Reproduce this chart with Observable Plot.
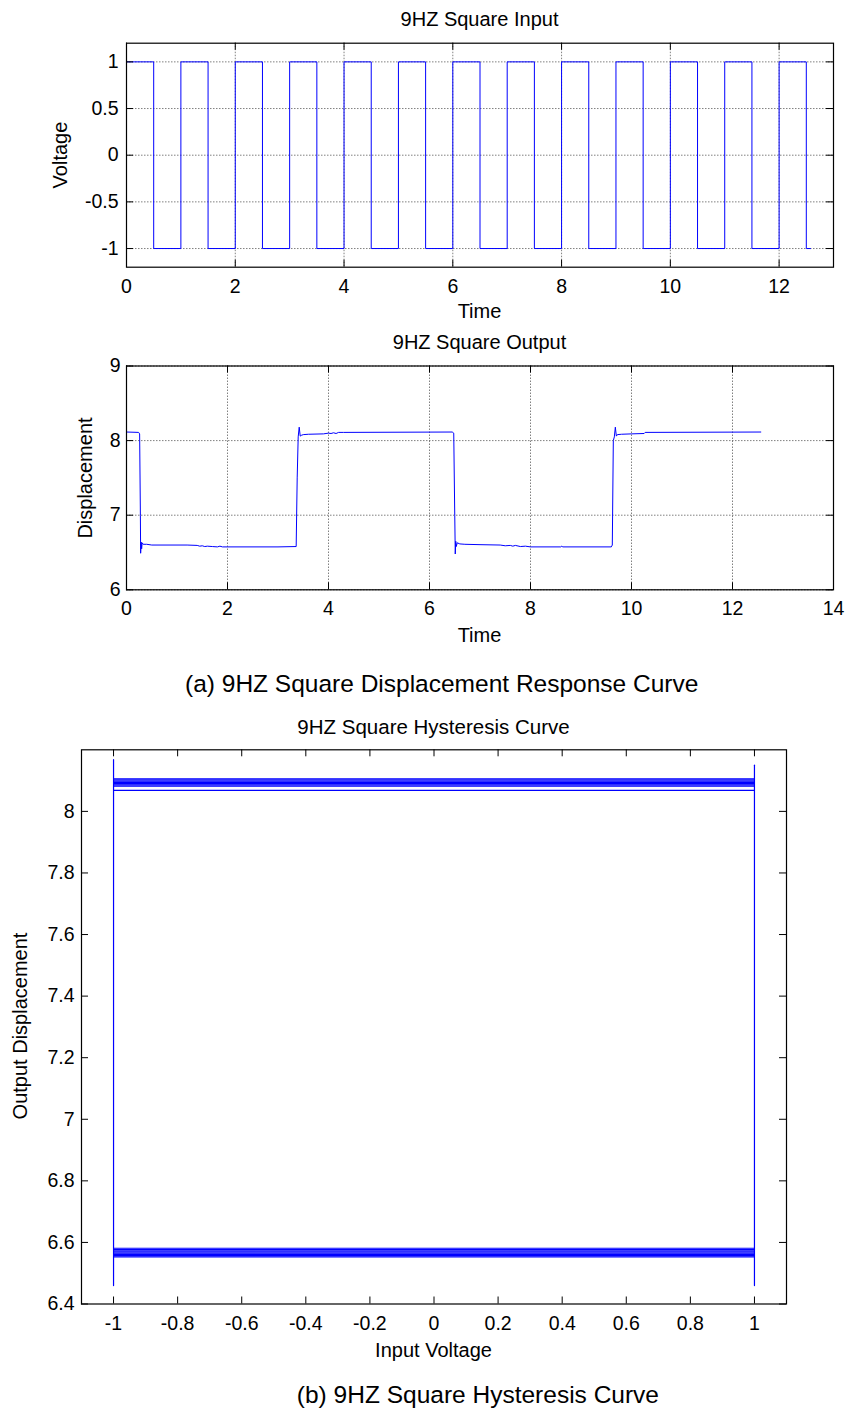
<!DOCTYPE html>
<html>
<head>
<meta charset="utf-8">
<script src="https://cdn.jsdelivr.net/npm/d3@7"></script>
<script src="https://cdn.jsdelivr.net/npm/@observablehq/plot@0.6"></script>
<style>
  html, body { margin: 0; padding: 0; background: #fff; }
  #page { position: relative; width: 849px; height: 1412px; overflow: hidden; background: #fff; }
  .chart { position: absolute; left: 0; }
  #overlay { position: absolute; left: 0; top: 0; pointer-events: none; }
</style>
</head>
<body>
<div id="page"></div>
<script>
// ---------------- DATA ----------------
// (1) 9HZ square input: switching times and the level held from each time
const inputTimes  = [0, 0.5, 1, 1.5, 2, 2.5, 3, 3.5, 4, 4.5, 5, 5.5, 6, 6.5, 7, 7.5, 8, 8.5, 9, 9.5, 10, 10.5, 11, 11.5, 12, 12.5, 12.58];
const inputLevels = [1, -1, 1, -1, 1, -1, 1, -1, 1, -1, 1, -1, 1, -1, 1, -1, 1, -1, 1, -1, 1, -1, 1, -1, 1, -1, -1];

// (2) 9HZ square output displacement
const outputTimes = [0, 0.24, 0.26, 0.275, 0.28, 0.29, 0.30, 0.31, 0.33, 0.40, 0.5, 1.2, 1.4, 1.45, 1.5, 1.55, 1.6, 1.7, 1.8, 1.85, 1.9, 2.0, 3.0, 3.36,
                     3.38, 3.40, 3.42, 3.44, 3.46, 3.5, 3.6, 3.9, 4.0, 4.05, 4.1, 4.15, 4.2, 4.3, 6.45, 6.48,
                     6.50, 6.51, 6.52, 6.53, 6.55, 6.6, 6.7, 7.0, 7.4, 7.5, 7.6, 7.65, 7.7, 7.8, 7.9, 8.0, 8.6, 8.62, 8.64, 9.6,
                     9.62, 9.64, 9.66, 9.68, 9.70, 9.72, 9.8, 10.0, 10.25, 10.27, 12.56];
const outputDisp  = [8.115, 8.11, 8.09, 7.0, 6.49, 6.64, 6.55, 6.63, 6.61, 6.61, 6.6, 6.6, 6.595, 6.585, 6.59, 6.58, 6.585, 6.58, 6.575, 6.585, 6.575, 6.575, 6.575, 6.58,
                     7.5, 8.05, 8.18, 8.06, 8.07, 8.08, 8.085, 8.09, 8.1, 8.095, 8.105, 8.095, 8.11, 8.11, 8.115, 8.10,
                     7.0, 6.48, 6.65, 6.58, 6.63, 6.615, 6.61, 6.605, 6.6, 6.59, 6.595, 6.585, 6.595, 6.58, 6.585, 6.575, 6.575, 6.585, 6.575, 6.575,
                     6.6, 8.0, 8.05, 8.18, 8.06, 8.08, 8.085, 8.09, 8.095, 8.11, 8.115];

// (3) hysteresis: output levels held while input sweeps -1 -> 1, and the vertical spans at the input extremes
const hystTopLevels    = [8.068, 8.082, 8.086, 8.09, 8.094, 8.098, 8.102, 8.106];
const hystBottomLevels = [6.553, 6.557, 6.561, 6.565, 6.569, 6.573, 6.577, 6.581];
const hystInputs       = [-1, 1];
const hystLeftSpan     = [6.46, 8.168];
const hystRightSpan    = [6.46, 8.15];

// ticks
const inTicksX  = [0, 2, 4, 6, 8, 10, 12];
const inTicksY  = [-1, -0.5, 0, 0.5, 1];
const outTicksX = [0, 2, 4, 6, 8, 10, 12, 14];
const outTicksY = [6, 7, 8, 9];
const hyTicksX  = [-1, -0.8, -0.6, -0.4, -0.2, 0, 0.2, 0.4, 0.6, 0.8, 1];
const hyTicksY  = [6.4, 6.6, 6.8, 7, 7.2, 7.4, 7.6, 7.8, 8];

// ---------------- DRAW ----------------
const FONT = "'Liberation Sans', Arial, Helvetica, sans-serif";
const BLUE = "#0000ff";
const page = document.getElementById("page");

function chart({top, height, mt, mb, ml, mr, xDomain, yDomain, xTicks, yTicks, grid, marks, xPad, yPad}) {
  const W = 849;
  const innerH = height - mt - mb;
  const innerW = W - ml - mr;
  const T = 7;
  const gridStyle = {stroke: "#555", strokeOpacity: 0.75, strokeDasharray: "1.5,1.5", strokeWidth: 1};
  const svg = Plot.plot({
    width: W, height,
    marginTop: mt, marginBottom: mb, marginLeft: ml, marginRight: mr,
    x: {domain: xDomain},
    y: {domain: yDomain},
    style: {fontFamily: FONT, fontSize: "19.5px", background: "transparent", color: "black", overflow: "visible"},
    marks: [
      grid ? Plot.gridX(xTicks, gridStyle) : null,
      grid ? Plot.gridY(yTicks, gridStyle) : null,
      ...marks,
      Plot.ruleX(xTicks, {x: d => d, insetTop: innerH - T, stroke: "black"}),
      Plot.ruleX(xTicks, {x: d => d, insetBottom: innerH - T, stroke: "black"}),
      Plot.ruleY(yTicks, {y: d => d, insetRight: innerW - T, stroke: "black"}),
      Plot.ruleY(yTicks, {y: d => d, insetLeft: innerW - T, stroke: "black"}),
      Plot.frame({stroke: "black", strokeWidth: 1.2}),
      Plot.axisX(xTicks, {tickSize: 0, tickPadding: xPad, label: null, tickFormat: d => String(d), fill: "black"}),
      Plot.axisY(yTicks, {tickSize: 0, tickPadding: yPad, label: null, tickFormat: d => String(d), fill: "black"})
    ]
  });
  svg.classList.add("chart");
  svg.style.top = top + "px";
  page.appendChild(svg);
}

// chart 1: input
const inputData = inputTimes.map((t, i) => ({t, v: inputLevels[i]}));
chart({
  top: 0, height: 330, mt: 42.7, mb: 63.3, ml: 126, mr: 16,
  xDomain: [0, 13], yDomain: [-1.2, 1.2], xTicks: inTicksX, yTicks: inTicksY, grid: true,
  xPad: 12, yPad: 8,
  marks: [Plot.line(inputData, {x: "t", y: "v", curve: "step-after", stroke: BLUE, strokeWidth: 1})]
});

// chart 2: output
const outputData = outputTimes.map((t, i) => ({t, d: outputDisp[i]}));
chart({
  top: 330, height: 330, mt: 35.5, mb: 70.7, ml: 126, mr: 16,
  xDomain: [0, 14], yDomain: [6, 9], xTicks: outTicksX, yTicks: outTicksY, grid: true,
  xPad: 11, yPad: 6,
  marks: [Plot.line(outputData, {x: "t", y: "d", stroke: BLUE, strokeWidth: 1})]
});

// chart 3: hysteresis
const segs = [];
let k = 0;
for (const l of hystTopLevels.concat(hystBottomLevels)) {
  for (const x of hystInputs) segs.push({seg: k, x, y: l});
  k++;
}
for (const y of hystLeftSpan) segs.push({seg: k, x: hystInputs[0], y});
k++;
for (const y of hystRightSpan) segs.push({seg: k, x: hystInputs[1], y});
chart({
  top: 700, height: 680, mt: 49.3, mb: 76.5, ml: 81, mr: 63,
  xDomain: [-1.1, 1.1], yDomain: [6.4, 8.2], xTicks: hyTicksX, yTicks: hyTicksY, grid: false,
  xPad: 12, yPad: 7,
  marks: [Plot.line(segs, {x: "x", y: "y", z: "seg", stroke: BLUE, strokeWidth: 1.2})]
});

// ---------------- TEXT ----------------
const ov = d3.select(page).append("svg")
  .attr("id", "overlay").attr("width", 849).attr("height", 1412)
  .style("font-family", FONT);
function txt(s, x, y, size, opts = {}) {
  const t = ov.append("text").attr("x", x).attr("y", y)
    .attr("font-size", size).attr("fill", "black")
    .attr("text-anchor", opts.anchor || "middle").text(s);
  if (opts.rotate) t.attr("transform", `rotate(-90 ${x} ${y})`);
  return t;
}
txt("9HZ Square Input", 479.5, 26, 20);
txt("Time", 479.5, 318, 20);
txt("Voltage", 67, 155, 20, {rotate: true});
txt("9HZ Square Output", 479.5, 349, 20);
txt("Time", 479.5, 642, 20);
txt("Displacement", 92, 478, 20, {rotate: true});
txt("(a) 9HZ Square Displacement Response Curve", 185, 692, 24.5, {anchor: "start"});
txt("9HZ Square Hysteresis Curve", 433.5, 734, 20.5);
txt("Input Voltage", 433.5, 1357, 20);
txt("Output Displacement", 27, 1026, 20, {rotate: true});
txt("(b) 9HZ Square Hysteresis Curve", 659, 1403, 24.5, {anchor: "end"});
</script>
</body>
</html>
